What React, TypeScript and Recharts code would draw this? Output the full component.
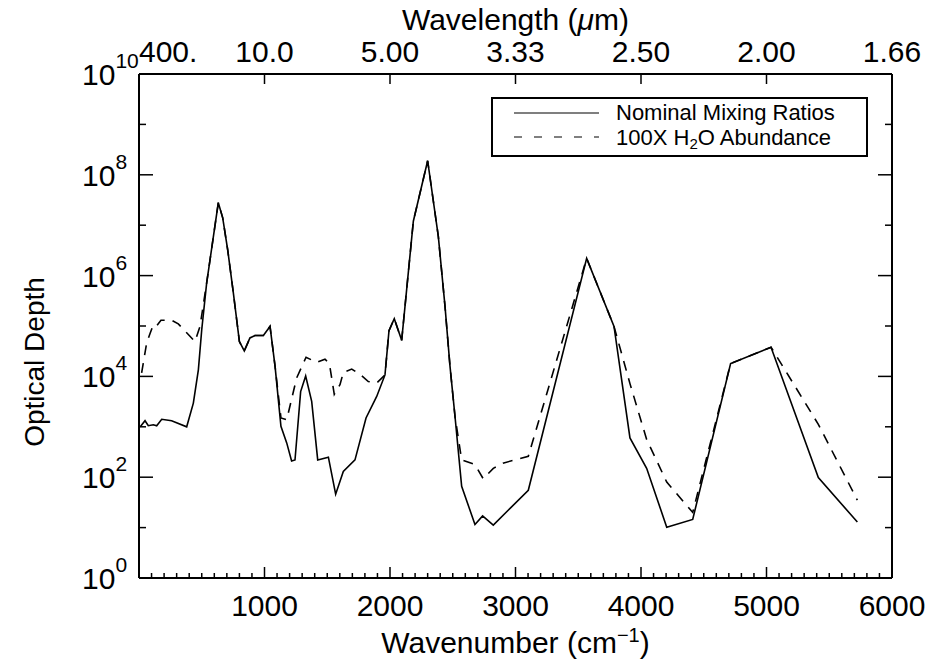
import React from 'react';
import { LineChart, Line, XAxis, YAxis, Legend } from 'recharts';

const FONT = '"Liberation Sans", Arial, sans-serif';

// wavenumber (cm^-1) vs optical depth
const NOMINAL_WAVENUMBER = [
  10, 48, 74, 114, 141, 181, 260, 380, 433, 473, 500, 539, 632, 667, 707, 752, 800, 839, 884, 924,
  991, 1044, 1084, 1131, 1177, 1216, 1243, 1288, 1328, 1376, 1424, 1509, 1567, 1628, 1721, 1809, 1894, 1960, 1992, 2034,
  2093, 2186, 2300, 2385, 2438, 2478, 2518, 2571, 2677, 2738, 2823, 3102, 3567, 3785, 3912, 4045, 4205, 4412, 4714, 5036,
  5413, 5724,
];
const NOMINAL_DEPTH = [
  1000, 1320, 1050, 1100, 1050, 1410, 1320, 1000, 2950, 1.35e4, 8.5e4, 7.1e5, 2.8e7, 1.4e7, 3.2e6, 4.5e5, 4.9e4, 3.2e4, 5.8e4, 6.5e4,
  6.5e4, 9.8e4, 1.6e4, 1020, 480, 210, 220, 5000, 1.02e4, 3200, 220, 250, 46, 130, 220, 1500, 4000, 1.07e4, 8.1e4, 1.4e5,
  5.2e4, 1.2e7, 1.9e8, 6.0e6, 2.5e5, 1.6e4, 1600, 66, 11.5, 17, 11.2, 55, 2.2e6, 9.8e4, 600, 150, 10.2, 14.5, 1.8e4, 3.8e4,
  98, 12.9,
];

const H2O_WAVENUMBER = [
  21, 61, 88, 114, 140, 175, 260, 313, 393, 446, 486, 539, 632, 667, 707, 752, 800, 839, 884, 924,
  991, 1044, 1084, 1131, 1177, 1256, 1331, 1416, 1482, 1517, 1556, 1602, 1628, 1695, 1761, 1827, 1894, 1960, 1992, 2034,
  2093, 2186, 2300, 2385, 2438, 2478, 2518, 2571, 2677, 2743, 2823, 2900, 3102, 3567, 3785, 3912, 4045, 4205, 4412, 4714,
  5036, 5413, 5724,
];
const H2O_DEPTH = [
  1.17e4, 4.6e4, 7.1e4, 1.05e5, 1.0e5, 1.3e5, 1.3e5, 1.1e5, 6.8e4, 4.9e4, 9.8e4, 7.1e5, 2.8e7, 1.4e7, 3.2e6, 4.5e5, 4.9e4, 3.2e4, 5.8e4, 6.5e4,
  6.5e4, 9.8e4, 1.6e4, 1500, 1380, 9300, 2.4e4, 1.9e4, 2.2e4, 1.8e4, 4400, 6900, 1.2e4, 1.4e4, 1.1e4, 7900, 7400, 1.07e4, 8.1e4, 1.4e5,
  5.2e4, 1.2e7, 1.9e8, 6.0e6, 2.5e5, 1.6e4, 1600, 220, 178, 93, 150, 190, 260, 2.2e6, 9.8e4, 7200, 560, 80, 20, 1.8e4,
  3.8e4, 1120, 35,
];

const SERIES_NAMES = ['Nominal Mixing Ratios', '100X H2O Abundance'];

const X_MAJOR = [0, 1000, 2000, 3000, 4000, 5000, 6000];
const X_LABELS = ['', '1000', '2000', '3000', '4000', '5000', '6000'];
const WAVELENGTH_LABELS = ['400.', '10.0', '5.00', '3.33', '2.50', '2.00', '1.66'];
const Y_TICKS = [1, 1e1, 1e2, 1e3, 1e4, 1e5, 1e6, 1e7, 1e8, 1e9, 1e10];

const xMinor = Array.from({ length: 61 }, (_, i) => i * 100);

const nominal = NOMINAL_WAVENUMBER.map((x, i) => ({ x, y: NOMINAL_DEPTH[i] }));
const h2o = H2O_WAVENUMBER.map((x, i) => ({ x, y: H2O_DEPTH[i] }));

const BottomTick = (props: any) => {
  const { x, y, payload } = props;
  const v = payload.value;
  const i = X_MAJOR.indexOf(v);
  const major = i >= 0;
  const edge = v === 0 || v === 6000;
  return (
    <g>
      {!edge && <line x1={x} x2={x} y1={y} y2={y - (major ? 11 : 5)} stroke="#000" strokeWidth={1.5} />}
      {major && X_LABELS[i] && (
        <text x={x} y={y + 38} textAnchor="middle" fontSize={30} fontFamily={FONT} fill="#000">
          {X_LABELS[i]}
        </text>
      )}
    </g>
  );
};

const TopTick = (props: any) => {
  const { x, y, payload } = props;
  const i = X_MAJOR.indexOf(payload.value);
  const edge = payload.value === 0 || payload.value === 6000;
  return (
    <g>
      {!edge && <line x1={x} x2={x} y1={y} y2={y + 10} stroke="#000" strokeWidth={1.5} />}
      <text x={x} y={y - 12} textAnchor={i === 0 ? 'start' : 'middle'} fontSize={30} fontFamily={FONT} fill="#000">
        {WAVELENGTH_LABELS[i]}
      </text>
    </g>
  );
};

const LeftTick = (props: any) => {
  const { x, y, payload } = props;
  const e = Math.round(Math.log10(payload.value));
  const major = e % 2 === 0;
  return (
    <g>
      {e > 0 && e < 10 && <line x1={x} x2={x + (major ? 14 : 7)} y1={y} y2={y} stroke="#000" strokeWidth={1.5} />}
      {major && (
        <text x={x - 57} y={y + 11} fontSize={30} fontFamily={FONT} fill="#000">
          10<tspan dy={-17} fontSize={21}>{e}</tspan>
        </text>
      )}
    </g>
  );
};

const RightTick = (props: any) => {
  const { x, y, payload } = props;
  const e = Math.round(Math.log10(payload.value));
  const major = e % 2 === 0;
  if (e <= 0 || e >= 10) return <g />;
  return <line x1={x} x2={x - (major ? 14 : 7)} y1={y} y2={y} stroke="#000" strokeWidth={1.5} />;
};

const BottomTitle = (props: any) => {
  const { x, y, width } = props.viewBox;
  return (
    <text x={x + width / 2} y={y + 75} textAnchor="middle" fontSize={30} fontFamily={FONT} fill="#000">
      Wavenumber (cm<tspan dy={-11} fontSize={20}>−1</tspan>
      <tspan dy={11}>)</tspan>
    </text>
  );
};

const TopTitle = (props: any) => {
  const { x, y, width } = props.viewBox;
  return (
    <text x={x + width / 2} y={y - 14} textAnchor="middle" fontSize={30} fontFamily={FONT} fill="#000">
      Wavelength (<tspan fontStyle="italic">μ</tspan>m)
    </text>
  );
};

const LeftTitle = (props: any) => {
  const { x, y, height } = props.viewBox;
  const cx = x - 35;
  const cy = y + height / 2 + 36;
  return (
    <text x={cx} y={cy} transform={`rotate(-90, ${cx}, ${cy})`} textAnchor="middle" fontSize={28} fontFamily={FONT} fill="#000">
      Optical Depth
    </text>
  );
};

const LegendBox = () => (
  <svg width={377} height={60} style={{ display: 'block' }}>
    <rect x={1} y={1} width={375} height={58} fill="#fff" stroke="#000" strokeWidth={2} />
    <line x1={23} x2={108} y1={16} y2={16} stroke="#000" strokeWidth={1.2} />
    <line x1={23} x2={108} y1={40} y2={40} stroke="#000" strokeWidth={1.2} strokeDasharray="8 12" />
    <text x={125} y={23} fontSize={22} fontFamily={FONT} fill="#000">
      {SERIES_NAMES[0]}
    </text>
    <text x={125} y={48} fontSize={22} fontFamily={FONT} fill="#000">
      100X H<tspan dy={4} fontSize={15}>2</tspan>
      <tspan dy={-4}>O Abundance</tspan>
    </text>
  </svg>
);

export default function App() {
  return (
    <div style={{ position: 'absolute', left: 0, top: 0, background: '#fff' }}>
      <LineChart width={926} height={664} margin={{ top: 44, right: 4, bottom: 56, left: 79 }}>
        <XAxis
          xAxisId="bottom"
          dataKey="x"
          type="number"
          domain={[0, 6000]}
          allowDataOverflow
          ticks={xMinor}
          interval={0}
          tickSize={0}
          tickMargin={0}
          tickLine={false}
          tick={BottomTick}
          axisLine={{ stroke: '#000', strokeWidth: 2 }}
          height={30}
          label={{ content: BottomTitle }}
        />
        <XAxis
          xAxisId="top"
          orientation="top"
          dataKey="x"
          type="number"
          domain={[0, 6000]}
          allowDataOverflow
          ticks={X_MAJOR}
          interval={0}
          tickSize={0}
          tickMargin={0}
          tickLine={false}
          tick={TopTick}
          axisLine={{ stroke: '#000', strokeWidth: 2 }}
          height={30}
          label={{ content: TopTitle }}
        />
        <YAxis
          yAxisId="left"
          type="number"
          scale="log"
          domain={[1, 1e10]}
          allowDataOverflow
          ticks={Y_TICKS}
          interval={0}
          tickSize={0}
          tickMargin={0}
          tickLine={false}
          tick={LeftTick}
          axisLine={{ stroke: '#000', strokeWidth: 2 }}
          width={60}
          label={{ content: LeftTitle }}
        />
        <YAxis
          yAxisId="right"
          orientation="right"
          type="number"
          scale="log"
          domain={[1, 1e10]}
          allowDataOverflow
          ticks={Y_TICKS}
          interval={0}
          tickSize={0}
          tickMargin={0}
          tickLine={false}
          tick={RightTick}
          axisLine={{ stroke: '#000', strokeWidth: 2 }}
          width={30}
        />
        <Legend
          content={LegendBox}
          verticalAlign="middle"
          wrapperStyle={{ left: 491, top: 97, width: 377, height: 60 }}
        />
        {/* wavelength axis shares the wavenumber data so it gets a scale */}
        <Line
          data={nominal}
          dataKey="y"
          xAxisId="top"
          yAxisId="right"
          stroke="none"
          legendType="none"
          dot={false}
          activeDot={false}
          isAnimationActive={false}
        />
        <Line
          data={nominal}
          dataKey="y"
          name={SERIES_NAMES[0]}
          xAxisId="bottom"
          yAxisId="left"
          type="linear"
          stroke="#000"
          strokeWidth={1.6}
          dot={false}
          isAnimationActive={false}
        />
        <Line
          data={h2o}
          dataKey="y"
          name={SERIES_NAMES[1]}
          xAxisId="bottom"
          yAxisId="left"
          type="linear"
          stroke="#000"
          strokeWidth={1.6}
          strokeDasharray="10 8"
          dot={false}
          isAnimationActive={false}
        />
      </LineChart>
    </div>
  );
}
